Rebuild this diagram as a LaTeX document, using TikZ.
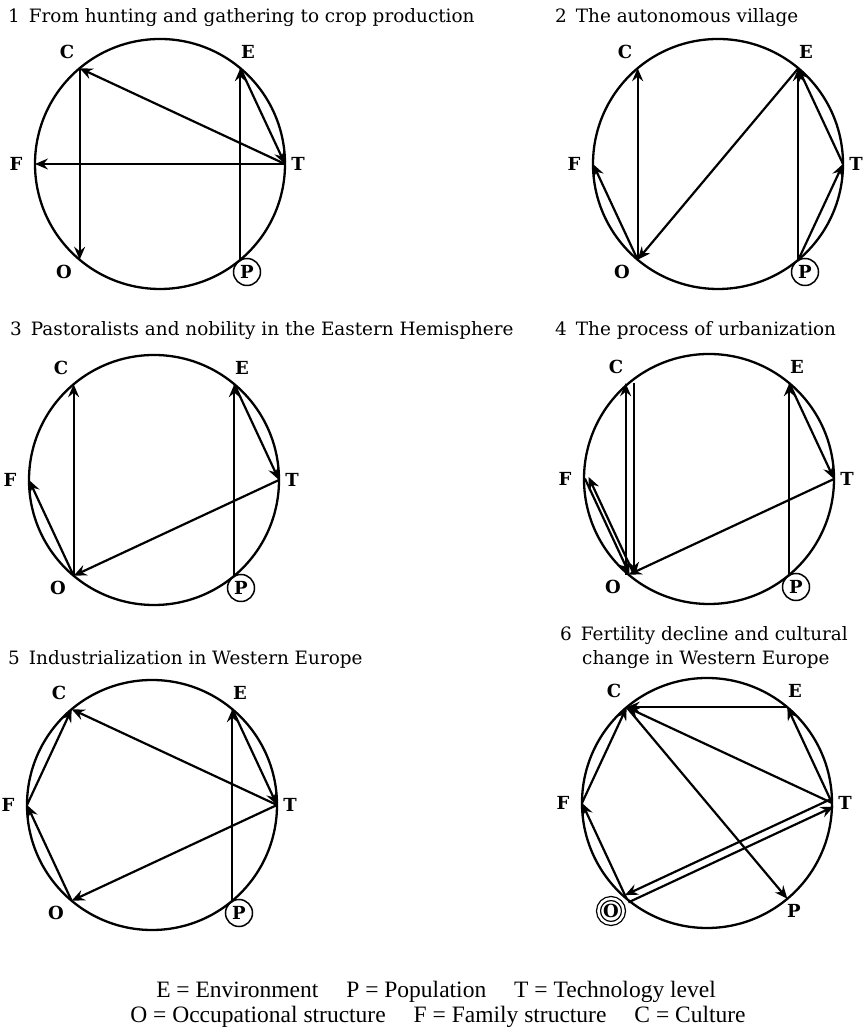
\documentclass[tikz,border=0pt]{standalone}
\usepackage{fontspec}
\setmainfont{DejaVu Serif}
\newfontfamily\legfont{Liberation Serif}
\usetikzlibrary{arrows.meta,calc}
\newcommand\parr[3]{\draw[arr] ($(#1)!#3!90:(#2)$) -- ($(#2)!#3!-90:(#1)$);}
\newcommand\skel[5]{%
  \begin{scope}[shift={(#2,#3)}]
    \draw[ring] (0,0) circle (125);
    \coordinate (#1T) at (0:125);
    \coordinate (#1E) at (50:125);
    \coordinate (#1C) at (130:125);
    \coordinate (#1F) at (180:125);
    \coordinate (#1O) at (230:125);
    \coordinate (#1P) at (310:125);
    \node[lab] (#1Tl) at (138,0) {T};
    \node[lab] (#1El) at (88,112) {E};
    \node[lab] (#1Cl) at (-93,112) {C};
    \node[lab] (#1Fl) at (-144,0) {F};
    \node[lab,#5] (#1Ol) at (-96,-108) {O};
    \node[lab,#4] (#1Pl) at (87,-108) {P};
  \end{scope}}
\begin{document}
\begin{tikzpicture}[x=1pt,y=1pt,
  ring/.style={line width=2.3pt},
  arr/.style={line width=2.2pt,-{Stealth[length=13pt,width=11pt,inset=4.5pt]}},
  lab/.style={font=\fontsize{18}{18}\selectfont\bfseries, inner sep=0pt},
  circ/.style={circle,draw,line width=1.5pt,minimum size=27pt},
  dcirc/.style={circle,draw,double,line width=1.3pt,double distance=2.6pt,minimum size=25pt},
  plain/.style={},
  ttl/.style={font=\fontsize{18.4}{23}\selectfont, anchor=base west, inner sep=0pt, align=left},
  leg/.style={font=\legfont\fontsize{23.5}{23.5}\selectfont, anchor=base, inner sep=0pt}]
\useasboundingbox (0,0) rectangle (864,1030);
% titles
\node[ttl] (t1) at (8,1007) {1\hspace{9pt}From hunting and gathering to crop production};
\node[ttl] (t2) at (555,1007) {2\hspace{9pt}The autonomous village};
\node[ttl] (t3) at (10,694) {3\hspace{9pt}Pastoralists and nobility in the Eastern Hemisphere};
\node[ttl] (t4) at (555,694) {4\hspace{9pt}The process of urbanization};
\node[ttl] (t5) at (8,365) {5\hspace{9pt}Industrialization in Western Europe};
\node[ttl] (t6a) at (560,389) {6\hspace{9pt}Fertility decline and cultural};
\node[ttl] (t6b) at (582,365) {change in Western Europe};
% diagram 1
\skel{a}{160}{866}{circ}{plain}
\draw[arr] (aT) -- (aC);
\draw[arr] (aT) -- (aF);
\draw[arr] (aC) -- (aO);
\draw[arr] (aP) -- (aE);
\draw[arr] (aE) -- (aT);
% diagram 2
\skel{b}{718}{866}{circ}{plain}
\draw[arr] (bO) -- (bC);
\draw[arr] (bE) -- (bO);
\draw[arr] (bO) -- (bF);
\draw[arr] (bP) -- (bE);
\draw[arr] (bT) -- (bE);
\draw[arr] (bP) -- (bT);
% diagram 3
\skel{c}{154}{550}{circ}{plain}
\draw[arr] (cO) -- (cC);
\draw[arr] (cO) -- (cF);
\draw[arr] (cP) -- (cE);
\draw[arr] (cE) -- (cT);
\draw[arr] (cT) -- (cO);
% diagram 4
\skel{d}{709}{551}{circ}{plain}
\parr{dO}{dC}{3pt}
\parr{dC}{dO}{5pt}
\parr{dO}{dF}{-5pt}
\parr{dF}{dO}{1pt}
\draw[arr] (dP) -- (dE);
\draw[arr] (dE) -- (dT);
\draw[arr] (dT) -- (dO);
% diagram 5
\skel{e}{152}{225}{circ}{plain}
\draw[arr] (eF) -- (eC);
\draw[arr] (eT) -- (eC);
\draw[arr] (eO) -- (eF);
\draw[arr] (eP) -- (eE);
\draw[arr] (eE) -- (eT);
\draw[arr] (eT) -- (eO);
% diagram 6
\skel{f}{707}{227}{plain}{dcirc}
\draw[arr] (fE) -- (fC);
\draw[arr] (fT) -- (fC);
\draw[arr] (fF) -- (fC);
\draw[arr] (fC) -- (fP);
\draw[arr] (fT) -- (fE);
\draw[arr] (fO) -- (fF);
\parr{fT}{fO}{-4pt}
\parr{fO}{fT}{-4pt}
% legend
\node[leg] (l1) at (436,32) {E = Environment\hspace{28pt}P = Population\hspace{28pt}T = Technology level};
\node[leg] (l2) at (438,7) {O = Occupational structure\hspace{28pt}F = Family structure\hspace{28pt}C = Culture};
\end{tikzpicture}
\end{document}
